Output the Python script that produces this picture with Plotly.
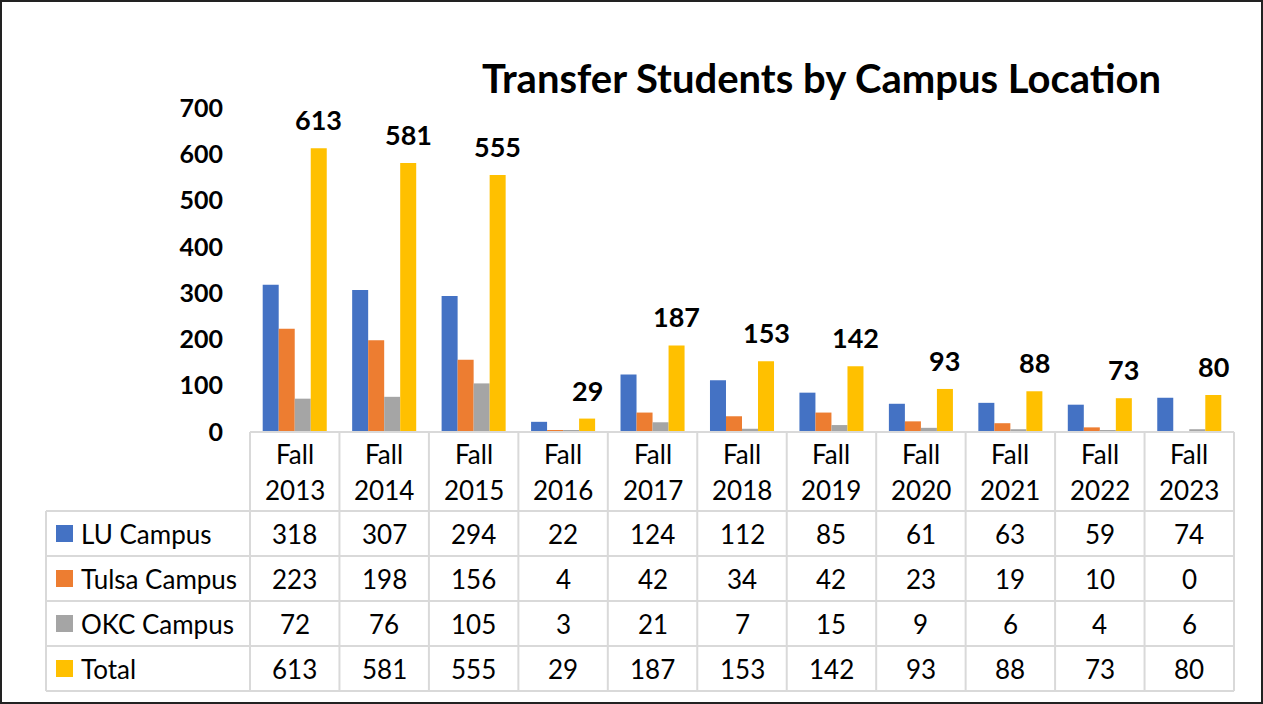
import plotly.graph_objects as go

categories = ["Fall 2013", "Fall 2014", "Fall 2015", "Fall 2016", "Fall 2017", "Fall 2018",
              "Fall 2019", "Fall 2020", "Fall 2021", "Fall 2022", "Fall 2023"]
lu_campus = [318, 307, 294, 22, 124, 112, 85, 61, 63, 59, 74]
tulsa_campus = [223, 198, 156, 4, 42, 34, 42, 23, 19, 10, 0]
okc_campus = [72, 76, 105, 3, 21, 7, 15, 9, 6, 4, 6]
total = [613, 581, 555, 29, 187, 153, 142, 93, 88, 73, 80]
y_ticks = [0, 100, 200, 300, 400, 500, 600, 700]

series_names = ["LU Campus", "Tulsa Campus", "OKC Campus", "Total"]
series_values = [lu_campus, tulsa_campus, okc_campus, total]
colors = ["#4472C4", "#ED7D31", "#A5A5A5", "#FFC000"]

W, H = 1263, 704
FONT = "Lato"
TS = 26  # table font size
BARGAP = 0.284


def px(x):
    return x / W


def py(y):
    return 1 - y / H


# layout geometry (pixels)
plot_left, plot_right = 250, 1234
plot_top, plot_bottom = 108, 432
header_bottom = 511
row_h = 45
label_left = 46
grid = "#D9D9D9"

ncol = len(categories)
cw = (plot_right - plot_left) / ncol
nser = len(series_names)
bar_w = cw * (1 - BARGAP) / nser
total_shift = (nser - 1) / 2 * bar_w  # offset of the Total bar from category centre

fig = go.Figure()
for name, vals, col in zip(series_names, series_values, colors):
    fig.add_trace(go.Bar(x=categories, y=vals, name=name, marker=dict(color=col, line=dict(width=0))))

annotations = []
shapes = []

# title
annotations.append(dict(text="<b>Transfer Students by Campus Location</b>", x=px(822), y=py(78),
                        xref="paper", yref="paper", showarrow=False, xanchor="center", yanchor="middle",
                        font=dict(family=FONT, size=40, color="black")))

# data labels on Total
for c, v in zip(categories, total):
    annotations.append(dict(text=f"<b>{v}</b>", x=c, y=v, xref="x", yref="y", showarrow=False,
                            xanchor="center", yanchor="bottom", yshift=10, xshift=total_shift,
                            font=dict(family=FONT, size=27, color="black")))

# header lines
shapes.append(dict(type="line", xref="paper", yref="paper", x0=px(plot_left), x1=px(plot_right),
                   y0=py(plot_bottom), y1=py(plot_bottom), line=dict(color=grid, width=2)))
for i in range(ncol + 1):
    xx = plot_left + i * cw
    shapes.append(dict(type="line", xref="paper", yref="paper", x0=px(xx), x1=px(xx),
                       y0=py(plot_bottom), y1=py(header_bottom + row_h * nser),
                       line=dict(color=grid, width=2)))
# left column verticals
shapes.append(dict(type="line", xref="paper", yref="paper", x0=px(label_left), x1=px(label_left),
                   y0=py(header_bottom), y1=py(header_bottom + row_h * nser),
                   line=dict(color=grid, width=2)))
# horizontal row lines
for r in range(nser + 1):
    yy = header_bottom + r * row_h
    shapes.append(dict(type="line", xref="paper", yref="paper", x0=px(label_left), x1=px(plot_right),
                       y0=py(yy), y1=py(yy), line=dict(color=grid, width=2)))

# header text
for i, c in enumerate(categories):
    cx = plot_left + (i + 0.5) * cw
    word, year = c.split(" ")
    annotations.append(dict(text=word, x=px(cx), y=py(454), xref="paper", yref="paper", showarrow=False,
                            xanchor="center", yanchor="middle", font=dict(family=FONT, size=TS, color="black")))
    annotations.append(dict(text=year, x=px(cx), y=py(490), xref="paper", yref="paper", showarrow=False,
                            xanchor="center", yanchor="middle", font=dict(family=FONT, size=TS, color="black")))

# rows
for r, (name, vals, col) in enumerate(zip(series_names, series_values, colors)):
    cy = header_bottom + (r + 0.5) * row_h
    shapes.append(dict(type="rect", xref="paper", yref="paper", x0=px(56), x1=px(73),
                       y0=py(cy - 8.5), y1=py(cy + 8.5), fillcolor=col, line=dict(width=0)))
    annotations.append(dict(text=name, x=px(79), y=py(cy), xref="paper", yref="paper", showarrow=False,
                            xanchor="left", yanchor="middle", font=dict(family=FONT, size=TS, color="black")))
    for i, v in enumerate(vals):
        cx = plot_left + (i + 0.5) * cw
        annotations.append(dict(text=str(v), x=px(cx), y=py(cy), xref="paper", yref="paper", showarrow=False,
                                xanchor="center", yanchor="middle", font=dict(family=FONT, size=TS, color="black")))

# outer border
shapes.append(dict(type="rect", xref="paper", yref="paper", x0=px(1), x1=px(W - 1), y0=py(H - 1), y1=py(1),
                   line=dict(color="#222222", width=2)))

fig.update_layout(
    width=W, height=H,
    autosize=False,
    margin=dict(l=0, r=0, t=0, b=0, pad=0, autoexpand=False),
    paper_bgcolor="white", plot_bgcolor="white",
    barmode="group", bargap=BARGAP, bargroupgap=0,
    showlegend=False,
    xaxis=dict(domain=[px(plot_left), px(plot_right)], showticklabels=False, showgrid=False,
               zeroline=False, showline=False, ticks="", automargin=False),
    yaxis=dict(domain=[py(plot_bottom), py(plot_top)], range=[0, 700], tickvals=y_ticks,
               showgrid=False, zeroline=False, showline=False, ticks="", automargin=False,
               ticklabelstandoff=26,
               tickfont=dict(family=FONT, size=25, color="black", weight="bold")),
    annotations=annotations,
    shapes=shapes,
    font=dict(family=FONT),
)

fig.write_html("out.html", config={"displayModeBar": False},
               post_script="document.body.style.margin='0';document.body.style.overflow='hidden';")
